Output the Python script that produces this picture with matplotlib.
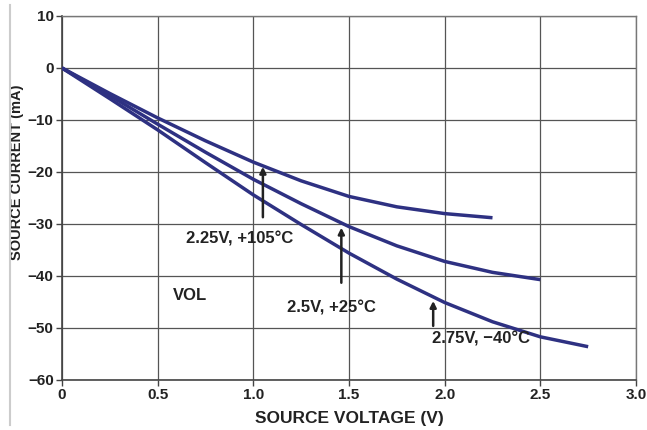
import matplotlib
matplotlib.use("Agg")
import matplotlib.pyplot as plt
from matplotlib.lines import Line2D

# Curve data (V, mA)
v_105 = [0, 0.25, 0.5, 0.75, 1.0, 1.25, 1.5, 1.75, 2.0, 2.25]
i_105 = [0, -4.9, -9.6, -14.0, -18.1, -21.7, -24.7, -26.7, -28.0, -28.8]

v_25 = [0, 0.25, 0.5, 0.75, 1.0, 1.25, 1.5, 1.75, 2.0, 2.25, 2.5]
i_25 = [0, -5.3, -10.8, -16.2, -21.4, -26.1, -30.5, -34.2, -37.2, -39.3, -40.7]

v_m40 = [0, 0.25, 0.5, 0.75, 1.0, 1.25, 1.5, 1.75, 2.0, 2.25, 2.5, 2.75]
i_m40 = [0, -5.9, -11.9, -18.2, -24.4, -30.1, -35.6, -40.6, -45.1, -48.8, -51.7, -53.6]

x_ticks = [0, 0.5, 1.0, 1.5, 2.0, 2.5, 3.0]
x_labels = ['0', '0.5', '1.0', '1.5', '2.0', '2.5', '3.0']
y_ticks = [10, 0, -10, -20, -30, -40, -50, -60]
y_labels = ['10', '0', '\u221210', '\u221220', '\u221230', '\u221240', '\u221250', '\u221260']

plt.rcParams['font.family'] = ['Liberation Sans', 'DejaVu Sans']
plt.rcParams['font.weight'] = 'bold'

fig = plt.figure(figsize=(6.47, 4.30), dpi=100)
ax = fig.add_axes([0.0958, 0.1163, 0.8872, 0.8465])

line_col = '#2e3182'
for v, i in [(v_105, i_105), (v_25, i_25), (v_m40, i_m40)]:
    ax.plot(v, i, color=line_col, linewidth=2.5, solid_capstyle='butt',
            solid_joinstyle='round', zorder=3)

ax.set_xlim(0, 3.0)
ax.set_ylim(-60, 10)
ax.set_xticks(x_ticks)
ax.set_xticklabels(x_labels)
ax.set_yticks(y_ticks)
ax.set_yticklabels(y_labels)
ax.grid(True, color='#555555', linewidth=0.9, zorder=1)
ax.tick_params(axis='both', direction='out', length=4, width=1, color='#444444',
               labelsize=11, labelcolor='#222222', pad=2)

for side in ['top', 'right']:
    ax.spines[side].set_color('#777777')
    ax.spines[side].set_linewidth(1.0)
for side in ['left', 'bottom']:
    ax.spines[side].set_color('#444444')
    ax.spines[side].set_linewidth(1.2)

ax.set_xlabel('SOURCE VOLTAGE (V)', fontsize=12.5, fontweight='bold', color='#222222')
ax.set_ylabel('SOURCE CURRENT (mA)', fontsize=10.5, fontweight='bold', color='#222222')
ax.xaxis.set_label_coords(0.5, -0.085)
ax.yaxis.set_label_coords(-0.067, 0.571)

# annotation arrows
arr = dict(arrowstyle='-|>', color='#222222', lw=1.8, mutation_scale=9, shrinkA=0, shrinkB=0)
ax.annotate('', xy=(1.05, -19.0), xytext=(1.05, -28.7), arrowprops=arr)
ax.annotate('', xy=(1.46, -30.7), xytext=(1.46, -41.3), arrowprops=arr)
ax.annotate('', xy=(1.94, -44.8), xytext=(1.94, -49.6), arrowprops=arr)

txt = dict(fontsize=12, fontweight='bold', color='#222222', ha='center', va='center')
ax.text(0.93, -32.8, '2.25V, +105\u00b0C', **txt)
ax.text(1.41, -46.1, '2.5V, +25\u00b0C', **txt)
ax.text(2.19, -52.2, '2.75V, \u221240\u00b0C', **txt)
ax.text(0.67, -43.8, 'VOL', **txt)

# page border line on the far left
fig.add_artist(Line2D([10 / 647, 10 / 647], [1 - 5 / 430, 1 - 425 / 430],
                      color='#cccccc', linewidth=1.5))

fig.savefig('out.png', dpi=100)
